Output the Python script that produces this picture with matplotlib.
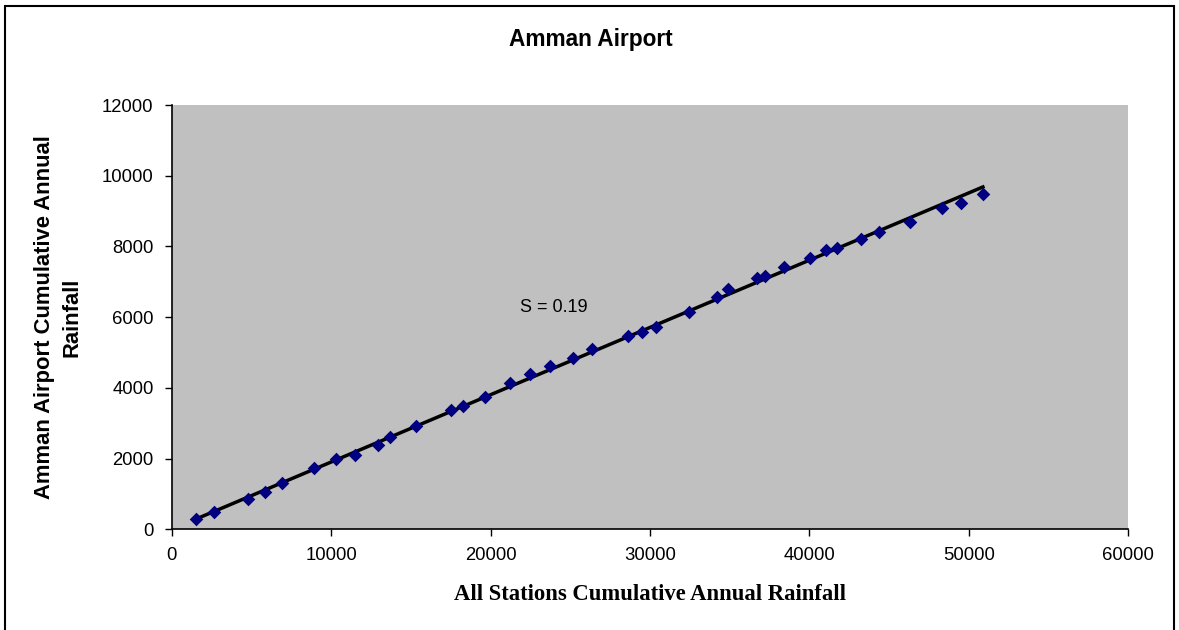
import numpy as np
import matplotlib
matplotlib.use("Agg")
import matplotlib.pyplot as plt
from matplotlib.patches import Rectangle

# cumulative annual rainfall, all stations vs Amman Airport
all_stations = [1520, 2670, 4770, 5870, 6940, 8930, 10330, 11480, 12960, 13710,
                15310, 17500, 18260, 19660, 21220, 22480, 23730, 25200, 26350,
                28640, 29480, 30380, 32450, 34190, 34920, 36700, 37220, 38430,
                40040, 41050, 41720, 43220, 44390, 46320, 48300, 49500, 50880]
amman_airport = [290, 490, 865, 1050, 1300, 1740, 1980, 2110, 2390, 2600,
                 2920, 3370, 3500, 3730, 4150, 4390, 4620, 4850, 5090,
                 5480, 5570, 5730, 6150, 6580, 6800, 7120, 7170, 7410,
                 7680, 7900, 7970, 8200, 8420, 8700, 9080, 9220, 9470]
slope_label = "S = 0.19"

x = np.array(all_stations, dtype=float)
y = np.array(amman_airport, dtype=float)
# double-mass slope: least squares through the origin
slope = (x * y).sum() / (x * x).sum()
xfit = np.array([x.min(), x.max()])
yfit = slope * xfit

SANS = "Liberation Sans"
SERIF = "Liberation Serif"

fig = plt.figure(figsize=(11.79, 6.30), dpi=100)
ax = fig.add_axes([0.1456, 0.1598, 0.8114, 0.6735])
ax.set_facecolor("#c0c0c0")

ax.plot(xfit, yfit, color="black", lw=2.5, zorder=2)
ax.scatter(x, y, marker="D", s=48, color="#000080", zorder=3, linewidths=0)
ax.text(21850, 6260, slope_label, fontsize=13, family=SANS, va="center")

ax.set_xlim(0, 60000)
ax.set_ylim(0, 12000)
ax.set_xticks(np.arange(0, 60001, 10000))
ax.set_yticks(np.arange(0, 12001, 2000))
for s in ["top", "right"]:
    ax.spines[s].set_visible(False)
for s in ["left", "bottom"]:
    ax.spines[s].set_linewidth(1.2)
ax.tick_params(direction="out", length=5, width=1, labelsize=13.3, pad=8)
for lbl in ax.get_xticklabels() + ax.get_yticklabels():
    lbl.set_family(SANS)

ax.set_xlabel("All Stations Cumulative Annual Rainfall", fontsize=16.3,
              family=SERIF, fontweight="bold", labelpad=14)
ax.set_ylabel("Amman Airport Cumulative Annual\nRainfall", fontsize=15.8,
              family=SANS, fontweight="bold", labelpad=14, linespacing=1.4)
fig.text(0.5015, 0.937, "Amman Airport", ha="center", va="center",
         fontsize=16.3, family=SANS, fontweight="bold")

# outer chart border
fig.patches.append(Rectangle((5 / 1179, -0.01), 1169 / 1179, 1 - 6 / 630 + 0.01,
                             transform=fig.transFigure, fill=False,
                             edgecolor="black", lw=1.5))

fig.savefig("out.png", dpi=100)
